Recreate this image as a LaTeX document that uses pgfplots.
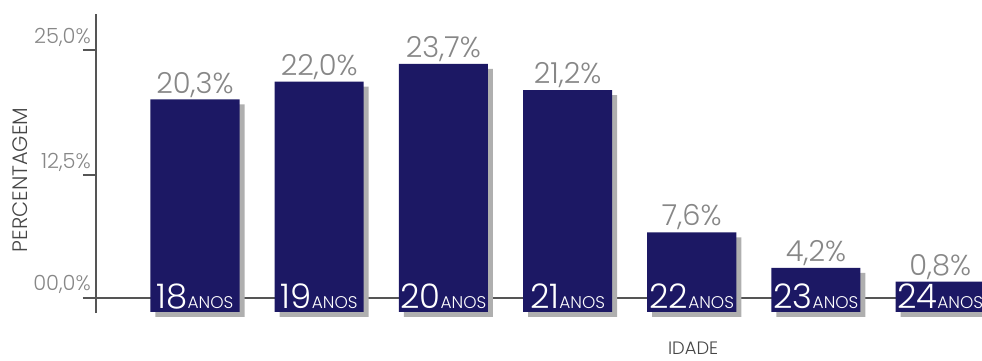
\documentclass[border=0pt]{standalone}
\usepackage{fontspec}
\setmainfont{Poppins Light}
\usepackage{pgfplots}
\pgfplotsset{compat=1.18}
\usepackage{pgfplotstable}
\definecolor{navy}{RGB}{28,24,100}
\definecolor{axisgray}{RGB}{85,85,85}
\definecolor{valgray}{RGB}{135,135,135}
\definecolor{shadowgray}{RGB}{175,175,175}
\definecolor{labgray}{RGB}{70,70,70}
% v: percentage; bars are drawn with a minimum height (as in the original) so the age label fits
\pgfplotstableread{
x v lab
0 20.3 20,3
1 22.0 22,0
2 23.7 23,7
3 21.2 21,2
4 7.6 7,6
5 4.2 4,2
6 0.8 0,8
}\data
\newcommand{\anos}[1]{#1{\fontsize{17}{17}\selectfont ANOS}}
\begin{document}
\begin{tikzpicture}
\begin{axis}[name=ax, scale only axis, width=886bp, height=299bp,
  xmin=-0.797, xmax=6.337, ymin=-0.1, ymax=28.46,
  axis on top,
  axis y line=left, axis x line=bottom,
  x axis line style={draw=none},
  y axis line style={-, draw=axisgray, line width=1.5pt},
  xtick={0,...,6},
  xticklabels={\anos{18},\anos{19},\anos{20},\anos{21},\anos{22},\anos{23},\anos{24}},
  xtick style={draw=none},
  ytick={1.34,13.08,25.02},
  yticklabels={{00,0\%},{12,5\%},{25,0\%}},
  tick align=outside, major tick length=13bp,
  ytick style={draw=axisgray, line width=1.5pt},
  yticklabel style={anchor=base east, inner sep=0pt, text=valgray, font=\fontsize{21}{21}\selectfont, yshift=7bp, xshift=8bp},
  xticklabel style={anchor=base, inner sep=0pt, text=white, font=\fontsize{34}{34}\selectfont, yshift=18bp},
  ylabel={PERCENTAGEM},
  ylabel style={at={(axis description cs:-0.0858,0.445)}, anchor=center, text=labgray, font=\fontsize{21}{21}\selectfont},
  xlabel={IDADE},
  xlabel style={at={(axis description cs:0.674,-0.119)}, anchor=center, text=labgray, font=\fontsize{18}{18}\selectfont},
  clip=false,
]
\draw[axisgray, line width=1.5pt] (axis cs:-0.902,1.34) -- (axis cs:6.337,1.34);
\addplot[ybar, bar shift=0pt, bar width=0.717, fill=shadowgray, draw=none, xshift=5bp, yshift=-5bp]
  table[x=x, y expr={max(\thisrow{v},2.9)}]{\data};
\addplot[ybar, bar shift=0pt, bar width=0.717, fill=navy, draw=none,
  point meta=explicit symbolic,
  nodes near coords={\pgfplotspointmeta\%},
  nodes near coords style={anchor=south, text=valgray, font=\fontsize{29}{29}\selectfont, inner sep=2bp}]
  table[x=x, y expr={max(\thisrow{v},2.9)}, meta=lab]{\data};
\end{axis}
\pgfresetboundingbox
\path[use as bounding box] ([shift={(-96bp,-48bp)}]ax.south west) rectangle ([shift={(886bp,313bp)}]ax.south west);
\end{tikzpicture}
\end{document}
